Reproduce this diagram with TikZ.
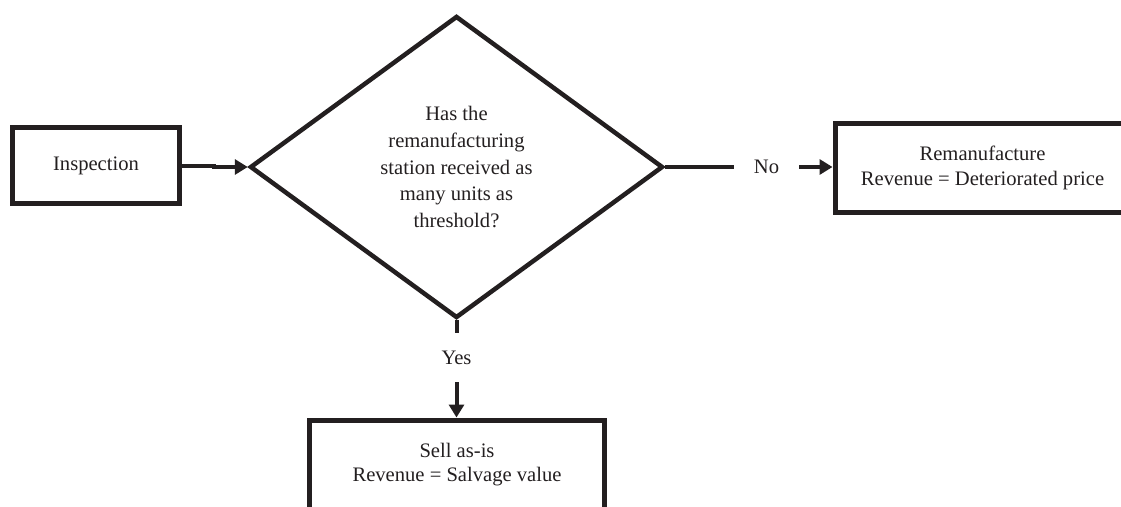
\documentclass[tikz,border=0pt]{standalone}
\usepackage{fontspec}
\setmainfont{Liberation Serif}
\usetikzlibrary{shapes.geometric,arrows.meta}
\definecolor{ink}{RGB}{35,31,32}
\begin{document}
\begin{tikzpicture}[x=1pt,y=-1pt,
  every node/.style={text=ink},
  box/.style={draw=ink,line width=5pt,rectangle,inner sep=0pt,align=center,
    font=\fontsize{20.6}{24.8}\selectfont},
  decision/.style={draw=ink,line width=4.5pt,diamond,inner sep=0pt,align=center,
    minimum width=413pt,minimum height=302pt,
    font=\fontsize{20.6}{26.7}\selectfont},
  lbl/.style={inner sep=0pt,font=\fontsize{20.6}{24.8}\selectfont},
  conn/.style={draw=ink,line width=4pt},
  arrowconn/.style={conn,-{Triangle[length=13pt,width=15pt]}}
]
\useasboundingbox (0,0) rectangle (1121,506);
\clip (0,0) rectangle (1121,506);

\node[box,minimum width=167pt,minimum height=76pt] (insp) at (96,165.5)
  {\raisebox{3pt}{Inspection}};
\node[decision] (dia) at (456.5,167)
  {Has the\\remanufacturing\\station received as\\many units as\\threshold?};
\node[lbl,inner xsep=20pt] (no) at (766.5,167) {No};
\node[box,minimum width=295pt,minimum height=89pt] (rem) at (982.5,168)
  {Remanufacture\\Revenue = Deteriorated price};
\node[lbl,minimum height=49pt,minimum width=40pt] (yes) at (456.5,357.5) {Yes};
\node[box,minimum width=295pt,minimum height=89pt] (sell) at (457,464.5)
  {Sell as-is\\Revenue = Salvage value};

\draw[arrowconn] (insp.east) -- ++(32,0) |- (dia.west);
\draw[conn] (dia.east) -- (no.west);
\draw[arrowconn] (no.east) -- (no.east -| rem.west);
\draw[conn] (dia.south) -- (yes.north);
\draw[arrowconn] (yes.south) -- (yes.south |- sell.north);
\end{tikzpicture}
\end{document}
